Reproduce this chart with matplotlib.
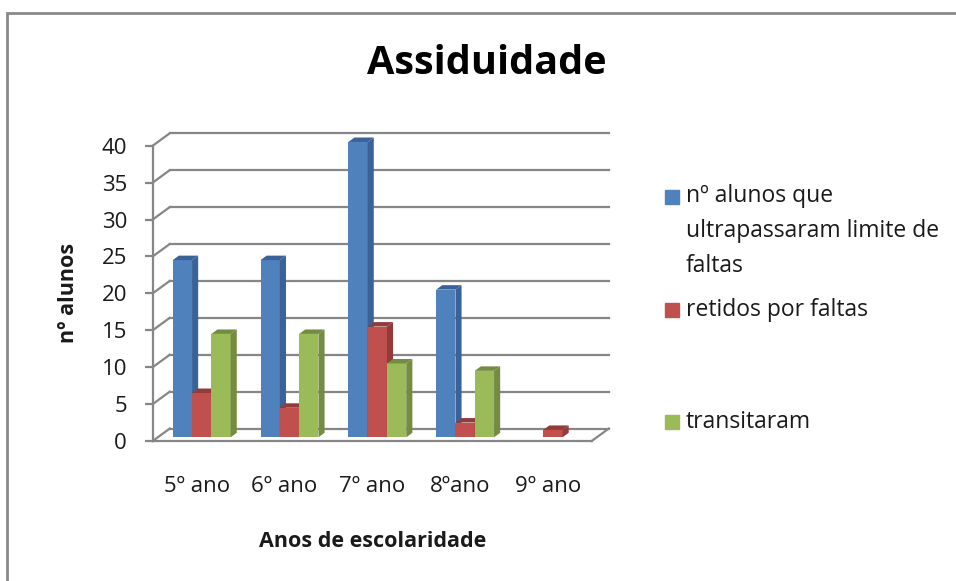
import numpy as np
import matplotlib.pyplot as plt
from matplotlib.patches import Polygon, Rectangle

plt.rcParams['font.family'] = ['Open Sans', 'DejaVu Sans']

categories = ["5º ano", "6º ano", "7º ano", "8ºano", "9º ano"]
series_names = ["nº alunos que\nultrapassaram limite de\nfaltas",
                "retidos por faltas",
                "transitaram"]
ultrapassaram = [24, 24, 40, 20, 0]
retidos = [6, 4, 15, 2, 1]
transitaram = [14, 14, 10, 9, 0]
yticks = [0, 5, 10, 15, 20, 25, 30, 35, 40]

front_col = ["#4F81BD", "#C0504D", "#9BBB59"]
side_col = ["#3A6296", "#933B38", "#738C42"]
grid_col = "#868686"
txt_col = "#1a1a1a"

W, H = 956, 581
fig = plt.figure(figsize=(W / 100, H / 100), dpi=100)
ax = fig.add_axes([152.7 / W, (H - 441) / H, 439 / W, 295.3 / H])
ax.set_xlim(0, len(categories))
ax.set_ylim(0, 40)

# pixel scales -> fake depth in data units
px_x = 439 / len(categories)
px_y = 295.3 / 40
ddx, ddy = 17 / px_x, 12.4 / px_y          # floor depth
fdx, fdy = 0.3 * ddx, 0.3 * ddy            # bar front plane
bdx, bdy = 0.36 * ddx, 0.36 * ddy          # bar depth
bw = 19.3 / px_x

# back wall + floor
for t in yticks:
    ax.plot([ddx, len(categories) + ddx], [t + ddy, t + ddy], color=grid_col, lw=1.6, clip_on=False, zorder=1)
    ax.plot([0, ddx], [t, t + ddy], color=grid_col, lw=1.6, clip_on=False, zorder=1)
ax.plot([len(categories), len(categories) + ddx], [0, ddy], color=grid_col, lw=1.6, clip_on=False, zorder=1)

series = [ultrapassaram, retidos, transitaram]
x = np.arange(len(categories)) + 0.5
for i in range(len(categories)):
    for k, vals in enumerate(series):
        h = vals[i]
        if h <= 0:
            continue
        xl = x[i] + (k - 1.5) * bw + fdx
        xr = xl + bw
        ax.bar(xl, h, width=bw, bottom=fdy, align='edge', color=front_col[k], lw=0, zorder=3, clip_on=False)
        ax.add_patch(Polygon([(xr, fdy), (xr + bdx, fdy + bdy), (xr + bdx, fdy + h + bdy), (xr, fdy + h)],
                             closed=True, color=side_col[k], lw=0, zorder=3, clip_on=False))
        ax.add_patch(Polygon([(xl, fdy + h), (xl + bdx, fdy + h + bdy), (xr + bdx, fdy + h + bdy), (xr, fdy + h)],
                             closed=True, color=side_col[k], lw=0, zorder=3, clip_on=False))

for s in ['top', 'right']:
    ax.spines[s].set_visible(False)
for s in ['left', 'bottom']:
    ax.spines[s].set_color(grid_col)
    ax.spines[s].set_linewidth(1.6)
    ax.spines[s].set_zorder(2)
ax.set_yticks(yticks)
ax.tick_params(axis='y', length=5.5, width=1.6, color=grid_col, pad=13, labelsize=16, labelcolor=txt_col)
ax.set_xticks(x)
ax.set_xticklabels(categories)
ax.tick_params(axis='x', length=0, pad=25, labelsize=16, labelcolor=txt_col)

ax.set_xlabel("Anos de escolaridade", fontsize=15.5, fontweight='bold', labelpad=25, color=txt_col)
ax.set_ylabel("nº alunos", fontsize=15.5, fontweight='bold', labelpad=16, color=txt_col)
fig.text(486.7 / W, 1 - 64 / H, "Assiduidade", fontsize=28.5, fontweight='bold', ha='center', va='center')

# legend
leg_y = [231, 310, 422]
for k in range(3):
    fig.text(686 / W, 1 - leg_y[k] / H, series_names[k], fontsize=16.5, color=txt_col,
             va='center', ha='left', linespacing=1.62)
    top_line = leg_y[k] - (34 if k == 0 else 0)
    fig.patches.append(Rectangle((665 / W, 1 - (top_line + 7) / H), 14 / W, 14 / H,
                                 transform=fig.transFigure, color=front_col[k], figure=fig))

# chart frame
fig.patches.append(Rectangle((7 / W, -0.05), 1.2, 1 - 13 / H + 0.05, transform=fig.transFigure,
                             fill=False, ec="#8a8a8a", lw=2, figure=fig))

fig.savefig("out.png", dpi=100)
